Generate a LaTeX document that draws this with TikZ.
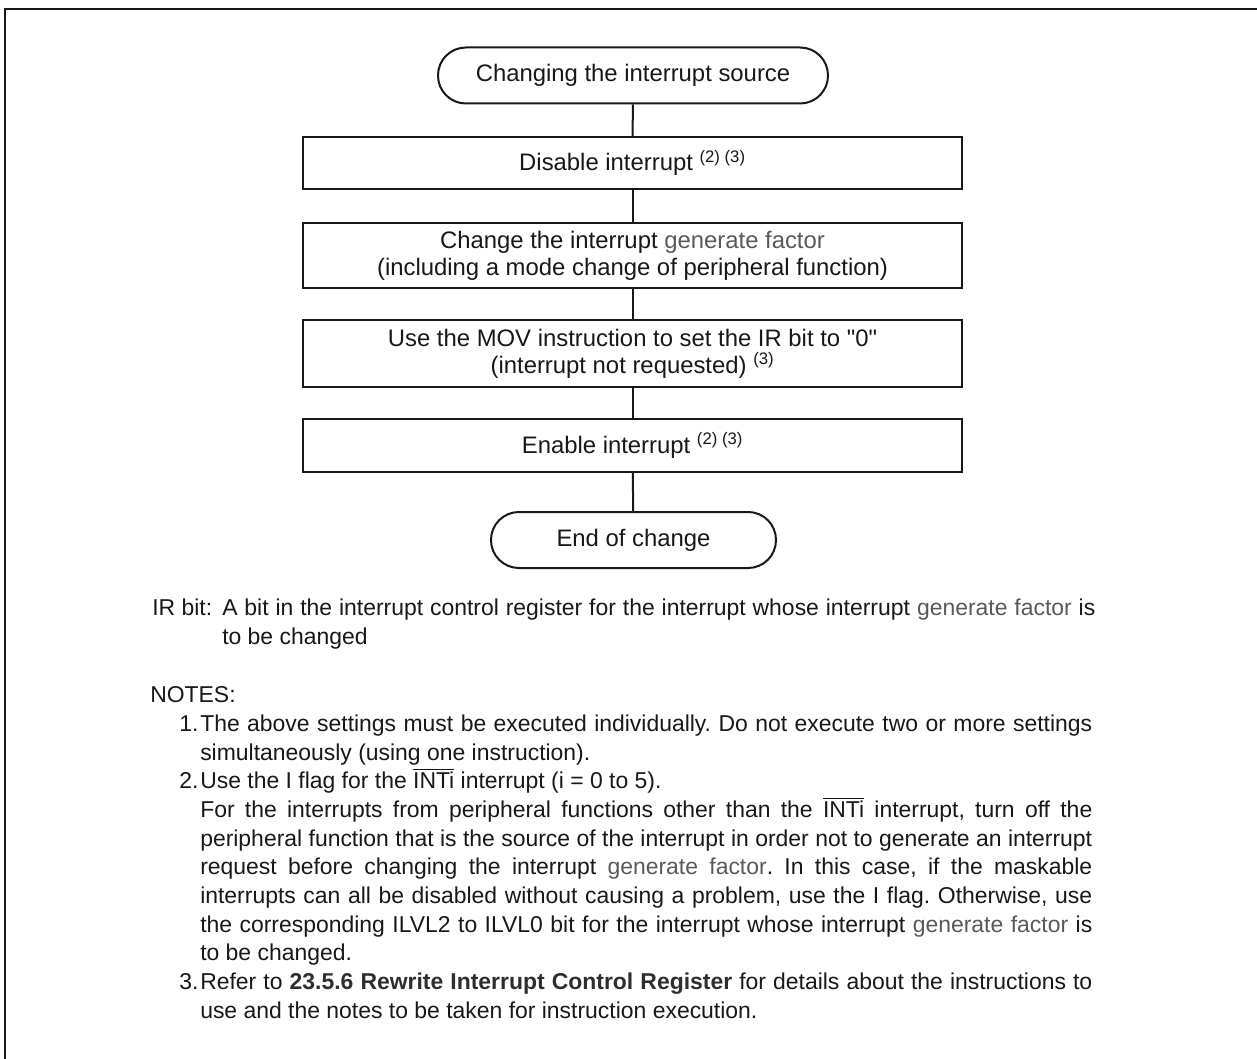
\documentclass[tikz,border=0pt]{standalone}
\usepackage{fontspec}
\setmainfont{Liberation Sans}[Ligatures=TeXOff]
\frenchspacing
\definecolor{ink}{HTML}{1A1718}
\definecolor{gf}{HTML}{58595B}
\definecolor{bd}{HTML}{2E2E2E}
\newcommand{\gfac}{\textcolor{gf}{generate factor}}
\newcommand{\INTbar}{$\overline{\mbox{INTi}}$}
\newcommand{\boxfont}{\fontsize{17.9}{20}\selectfont}
\newcommand{\notefont}{\fontsize{17.2}{21.5}\selectfont}
\begin{document}
\begin{tikzpicture}[x=0.75pt,y=-0.75pt,
  stepbox/.style={draw=ink, line width=1.5pt, rectangle, minimum width=494.25pt,
    inner sep=0pt, align=center, font=\boxfont, text=ink},
  termbox/.style={draw=ink, line width=1.5pt, rectangle, rounded corners=20.9pt,
    minimum height=42pt, inner sep=0pt, align=center, font=\boxfont, text=ink},
  conn/.style={draw=ink, line width=1.5pt},
  txt/.style={anchor=base west, inner sep=0pt, font=\notefont, text=ink}]
\path[use as bounding box] (0,0) rectangle (1257,1059);
\draw[ink, line width=1.7pt] (5,1059) -- (5,9) -- (1257,9);

\node[termbox, minimum width=292.5pt] (t1) at (633,75.5) {Changing the interrupt source};
\node[stepbox, minimum height=39pt] (b1) at (632.5,163) {Disable interrupt \textsuperscript{(2) (3)}};
\node[stepbox, minimum height=48.75pt] (b2) at (632.5,255.5) {Change the interrupt \gfac\\(including a mode change of peripheral function)};
\node[stepbox, minimum height=50.25pt] (b3) at (632.5,353.5) {Use the MOV instruction to set the IR bit to "0"\\(interrupt not requested) \textsuperscript{(3)}};
\node[stepbox, minimum height=39.75pt] (b4) at (632.5,445.5) {Enable interrupt \textsuperscript{(2) (3)}};
\node[termbox, minimum width=213.75pt] (t2) at (633.5,540) {End of change};

\draw[conn] (t1) -- (b1);
\draw[conn] (b1) -- (b2);
\draw[conn] (b2) -- (b3);
\draw[conn] (b3) -- (b4);
\draw[conn] (b4) -- (t2);

\node[txt] (irl) at (152,615) {IR bit:};
\node[txt] (ir1) at (222,615) {\makebox[654.75pt][s]{A bit in the interrupt control register for the interrupt whose interrupt \gfac{} is}};
\node[txt] (ir2) at (222,644) {to be changed};
\node[txt] (notes) at (150,702) {NOTES:};
\node[txt] (n1) at (179,731) {1.};
\node[txt] (l1) at (200,731) {\makebox[669pt][s]{The above settings must be executed individually. Do not execute two or more settings}};
\node[txt] (l2) at (200,760) {simultaneously (using one instruction).};
\node[txt] (n2) at (179,788) {2.};
\node[txt] (l3) at (200,788) {Use the I flag for the \INTbar{} interrupt (i = 0 to 5).};
\node[txt] (l4) at (200,817) {\makebox[669pt][s]{For the interrupts from peripheral functions other than the \INTbar{} interrupt, turn off the}};
\node[txt] (l5) at (200,846) {\makebox[669pt][s]{peripheral function that is the source of the interrupt in order not to generate an interrupt}};
\node[txt] (l6) at (200,874) {\makebox[669pt][s]{request before changing the interrupt \gfac. In this case, if the maskable}};
\node[txt] (l7) at (200,903) {\makebox[669pt][s]{interrupts can all be disabled without causing a problem, use the I flag. Otherwise, use}};
\node[txt] (l8) at (200,932) {\makebox[669pt][s]{the corresponding ILVL2 to ILVL0 bit for the interrupt whose interrupt \gfac{} is}};
\node[txt] (l9) at (200,960) {to be changed.};
\node[txt] (n3) at (179,989) {3.};
\node[txt] (l10) at (200,989) {\makebox[669pt][s]{Refer to \textbf{\textcolor{bd}{23.5.6 Rewrite Interrupt Control Register}} for details about the instructions to}};
\node[txt] (l11) at (200,1018) {use and the notes to be taken for instruction execution.};
\end{tikzpicture}
\end{document}
